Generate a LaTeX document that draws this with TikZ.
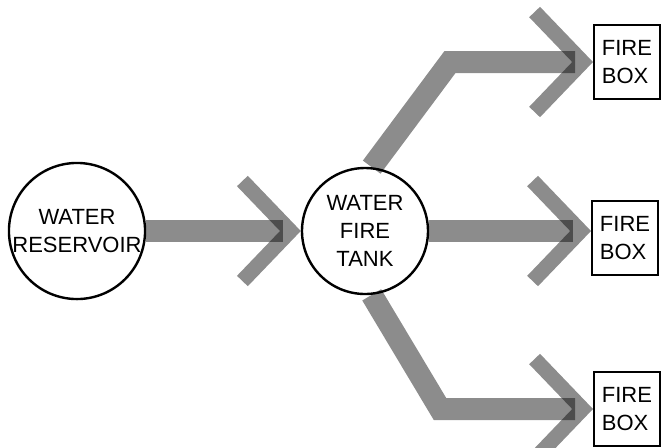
\documentclass[tikz,border=0pt]{standalone}
\usepackage{fontspec}
\setmainfont{Liberation Sans}
\usetikzlibrary{arrows.meta, positioning}

\begin{document}
\begin{tikzpicture}[x=0.5pt, y=-0.5pt, font=\fontsize{11}{14}\selectfont,
		vessel/.style={circle, draw, line width=1.2pt, minimum size=63pt,
		               align=center, inner sep=0pt},
		fbox/.style={draw, line width=1pt, minimum width=33pt,
		             minimum height=37pt, align=left},
		band/.style={draw=black, draw opacity=0.45, line width=11pt, line join=miter,
		             -{Straight Barb[length=24pt, width=50pt, line width=7.5pt]}}]
		\useasboundingbox (0,0) rectangle (661,447);
		\node[vessel] (res) at (77,231) {WATER\\RESERVOIR};
		\node[vessel] (tank) at (365,231) {WATER\\FIRE\\TANK};
		\node[fbox] (fb1) at (627,62) {FIRE\\BOX};
		\node[fbox] (fb2) at (625,238) {FIRE\\BOX};
		\node[fbox] (fb3) at (627,409) {FIRE\\BOX};
		\coordinate (b1) at (450,62);
		\coordinate (b3) at (440,409);
		% shaded flow arrows
		\draw[band] (res) -- (tank);
		\draw[band] (tank.84) -- (b1) -- (fb1.west);
		\draw[band] (tank) -- (tank -| fb2.west);
		\draw[band] (tank.-84) -- (b3) -- (fb3.west);
	\end{tikzpicture}
\end{document}
